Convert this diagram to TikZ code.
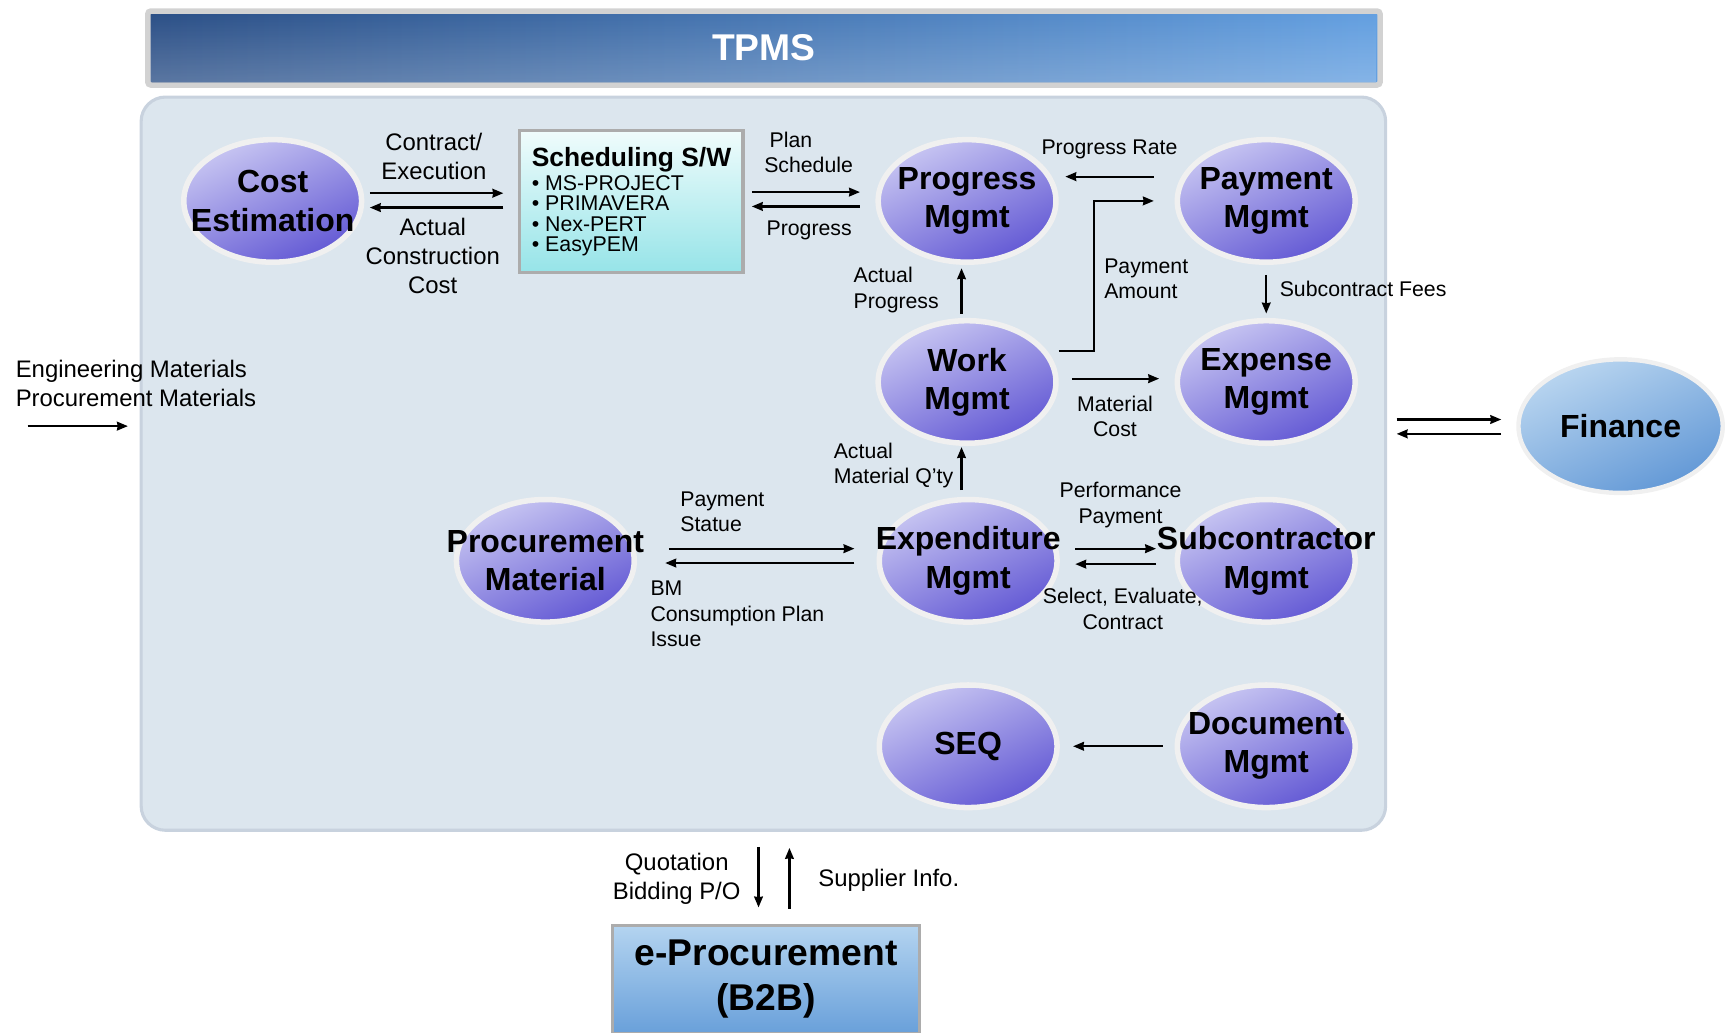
\documentclass[tikz,border=0pt]{standalone}
\usepackage{fontspec}
\setmainfont{Liberation Sans}
\usetikzlibrary{shapes.geometric}
\usetikzlibrary{arrows,arrows.meta}
\usetikzlibrary{fadings}
\definecolor{panelfill}{RGB}{220,230,238}
\definecolor{panelline}{RGB}{200,210,222}
\definecolor{bannerdark}{RGB}{44,80,135}
\definecolor{bannerlight}{RGB}{100,160,225}
\definecolor{blobtop}{RGB}{200,198,242}
\definecolor{blobbottom}{RGB}{98,88,212}
\definecolor{fintop}{RGB}{186,214,240}
\definecolor{finbottom}{RGB}{98,152,214}
\definecolor{schedtop}{RGB}{240,252,252}
\definecolor{schedbottom}{RGB}{150,228,232}
\definecolor{proctop}{RGB}{180,212,240}
\definecolor{procbottom}{RGB}{105,160,218}
\colorlet{rim}{gray!12}
\colorlet{boxline}{gray!65}

\newcommand{\blobfont}{\bfseries\fontsize{20.6}{24.6}\selectfont}
\newcommand{\lblfont}{\fontsize{13.7}{16.4}\selectfont}
\newcommand{\biglblfont}{\fontsize{15.4}{18.5}\selectfont}

\begin{document}
\begin{tikzpicture}[x=0.025cm, y=-0.025cm,
    blob/.style={ellipse, minimum width=4.025cm, minimum height=2.775cm, inner sep=0pt,
        draw=rim, line width=0.125cm, top color=blobtop, bottom color=blobbottom, shading angle=25},
    finblob/.style={blob, minimum width=4.625cm, minimum height=3.025cm, line width=0.1cm,
        top color=fintop, bottom color=finbottom, shading angle=25},
    blobtext/.style={font=\blobfont, align=center, inner sep=0pt},
    lbl/.style={font=\lblfont, inner sep=0pt},
    biglbl/.style={font=\biglblfont, inner sep=0pt},
    flow/.style={line width=1.4pt, -{Stealth[length=7pt, width=5.6pt, inset=0.4pt]}},
]

    \useasboundingbox (0,0) rectangle (1568,935);

    % frame and title
    \node[rectangle, rounded corners=0.55cm, minimum width=28.175cm, minimum height=16.6cm,
        fill=panelfill, draw=panelline, line width=2pt] (tpms) at (691.5,420) {};
    \node[rectangle, rounded corners=2pt, minimum width=27.9cm, minimum height=1.675cm,
        draw=gray!35, line width=0.125cm, left color=bannerdark, right color=bannerlight] (banner) at (692,43.5) {};
    \fill[white, fill opacity=0.22, path fading=north]
        ([shift={(0.125cm,0.125cm)}]banner.south west) rectangle ([shift={(-0.125cm,-0.125cm)}]banner.north east);
    \node[text=white, font=\bfseries\fontsize{24}{28}\selectfont] (title) at (banner) {TPMS};

    \node[rectangle, minimum width=5.05cm, minimum height=3.225cm, inner sep=0pt,
        draw=boxline, line width=2pt, top color=schedtop, bottom color=schedbottom,
        align=left, font=\fontsize{13.75}{13.2}\selectfont] (sched) at (572,182.5)
        {{\bfseries\fontsize{17}{20}\selectfont Scheduling S/W}\\[1.3pt]
         \textbullet\ MS-PROJECT\\ \textbullet\ PRIMAVERA\\ \textbullet\ Nex-PERT\\ \textbullet\ EasyPEM};

    \node[blob, label={[blobtext]center:{Cost\\Estimation}}] (cost) at (247,182) {};
    \node[blob, label={[blobtext]center:{Progress\\Mgmt}}] (prog) at (876,182) {};
    \node[blob, label={[blobtext]center:{Payment\\Mgmt}}] (pay) at (1147,182) {};
    \node[blob, label={[blobtext]center:{Work\\Mgmt}}] (work) at (876,346) {};
    \node[blob, label={[blobtext]center:{Expense\\Mgmt}}] (exp) at (1147,346) {};
    \node[blob, label={[blobtext]center:{Procurement\\Material}}] (proc) at (494,508) {};
    \node[blob, label={[blobtext]center:{Expenditure\\Mgmt}}] (expd) at (877,508) {};
    \node[blob, label={[blobtext]center:{Subcontractor\\Mgmt}}] (sub) at (1147,508) {};
    \node[blob, label={[blobtext]center:SEQ}] (seq) at (877,676) {};
    \node[blob, label={[blobtext]center:{Document\\Mgmt}}] (doc) at (1147,676) {};
    \node[finblob, label={[blobtext]center:Finance}] (fin) at (1468,386) {};

    \node[rectangle, minimum width=6.95cm, minimum height=2.45cm, draw=boxline, line width=2pt,
        top color=proctop, bottom color=procbottom, align=center,
        font=\bfseries\fontsize{24}{29.2}\selectfont] (eproc) at (694,887) {e-Procurement\\(B2B)};

    % connectors
    \draw[flow, shorten <=0.125cm, shorten >=0.34cm] ([yshift=0.175cm]cost.east) -- ([yshift=0.175cm]cost.east -| sched.west);
    \draw[flow, shorten <=0.34cm, shorten >=0.125cm] ([yshift=-0.15cm]cost.east -| sched.west) -- ([yshift=-0.15cm]cost.east);
    \draw[flow, shorten <=0.165cm, shorten >=0.35cm] ([yshift=0.2cm]prog.west -| sched.east) -- ([yshift=0.2cm]prog.west);
    \draw[flow, shorten <=0.35cm, shorten >=0.165cm] ([yshift=-0.125cm]prog.west) -- ([yshift=-0.125cm]prog.west -| sched.east);
    \draw[flow, shorten <=0.47cm, shorten >=0.15cm] ([yshift=0.55cm]pay.west) -- ([yshift=0.55cm]pay.west -| prog.east);
    \draw[flow, shorten >=0.47cm] ([yshift=0.7cm]work.east) -- ++(32,0) |- (pay.west);
    \draw[flow, shorten <=0.1cm, shorten >=0.075cm] ([xshift=-0.125cm]work.north) -- ([xshift=-0.125cm]prog.south);
    \draw[flow, shorten <=0.225cm, shorten >=0.1cm] (pay.south) -- (exp.north);
    \draw[flow, shorten <=0.3cm, shorten >=0.35cm] ([yshift=0.075cm]work.east) -- ([yshift=0.075cm]work.east -| exp.west);
    \draw[flow, shorten <=0.15cm, shorten >=0.025cm] ([xshift=-0.15cm]expd.north) -- ([xshift=-0.15cm]expd.north |- work.south);
    \draw[flow, shorten <=0.72cm, shorten >=0.5cm] ([yshift=0.275cm]proc.east) -- ([yshift=0.275cm]proc.east -| expd.west);
    \draw[flow, shorten <=0.5cm, shorten >=0.64cm] ([yshift=-0.05cm]proc.east -| expd.west) -- ([yshift=-0.05cm]proc.east);
    \draw[flow, shorten <=0.35cm, shorten >=0.42cm] ([yshift=0.275cm]expd.east) -- ([yshift=0.275cm]expd.east -| sub.west);
    \draw[flow, shorten <=0.42cm, shorten >=0.35cm] ([yshift=-0.075cm]expd.east -| sub.west) -- ([yshift=-0.075cm]expd.east);
    \draw[flow, shorten <=0.27cm, shorten >=0.3cm] (doc.west) -- (seq.east);

    \coordinate (matin) at (25,386);
    \draw[flow, shorten >=0.265cm] (matin) -- (matin -| tpms.west);

    \draw[flow, shorten <=0.215cm, shorten >=0.34cm] ([yshift=0.15cm]fin.west -| tpms.east) -- ([yshift=0.15cm]fin.west);
    \draw[flow, shorten <=0.34cm, shorten >=0.215cm] ([yshift=-0.175cm]fin.west) -- ([yshift=-0.175cm]fin.west -| tpms.east);

    \draw[flow, shorten <=0.34cm, shorten >=0.365cm] ([xshift=-0.11cm]tpms.south) -- ([xshift=-0.11cm]tpms.south |- eproc.north);
    \draw[flow, shorten <=0.34cm, shorten >=0.365cm] ([xshift=0.59cm]tpms.south |- eproc.north) -- ([xshift=0.59cm]tpms.south);

    % labels
    \node[biglbl, align=center] (contract) at (393,142) {Contract/\\Execution};
    \node[biglbl, align=center] (actualcost) at (392,232) {Actual\\Construction\\Cost};
    \node[lbl, align=left, anchor=west] (plan) at (692,138) {\hspace*{3.5pt}Plan\\Schedule};
    \node[lbl] (progress) at (733,209) {Progress};
    \node[lbl] (rate) at (1005,135) {Progress Rate};
    \node[lbl, align=left, anchor=west] (amount) at (1000,252.5) {Payment\\Amount};
    \node[lbl, align=left, anchor=west] (actprog) at (773,262.5) {Actual\\Progress};
    \node[lbl, anchor=west] (fees) at (1159,262) {Subcontract Fees};
    \node[lbl, align=center] (matcost) at (1010,377) {Material\\Cost};
    \node[lbl, align=left, anchor=west] (matqty) at (755,421.5) {Actual\\Material Q'ty};
    \node[lbl, align=left, anchor=west] (statue) at (616,463.5) {Payment\\Statue};
    \node[lbl, align=left, anchor=west] (bm) at (589,556) {BM\\Consumption Plan\\Issue};
    \node[lbl, align=center] (perf) at (1015,457.5) {Performance\\Payment};
    \node[lbl, align=center] (select) at (1017,551.5) {Select, Evaluate,\\Contract};
    \node[biglbl, align=left, anchor=west] (matlabel) at (14,347.5) {Engineering Materials\\Procurement Materials};
    \node[biglbl, align=center] (quote) at (613,796) {Quotation\\Bidding P/O};
    \node[biglbl, anchor=west] (supplier) at (741,797) {Supplier Info.};

\end{tikzpicture}
\end{document}
